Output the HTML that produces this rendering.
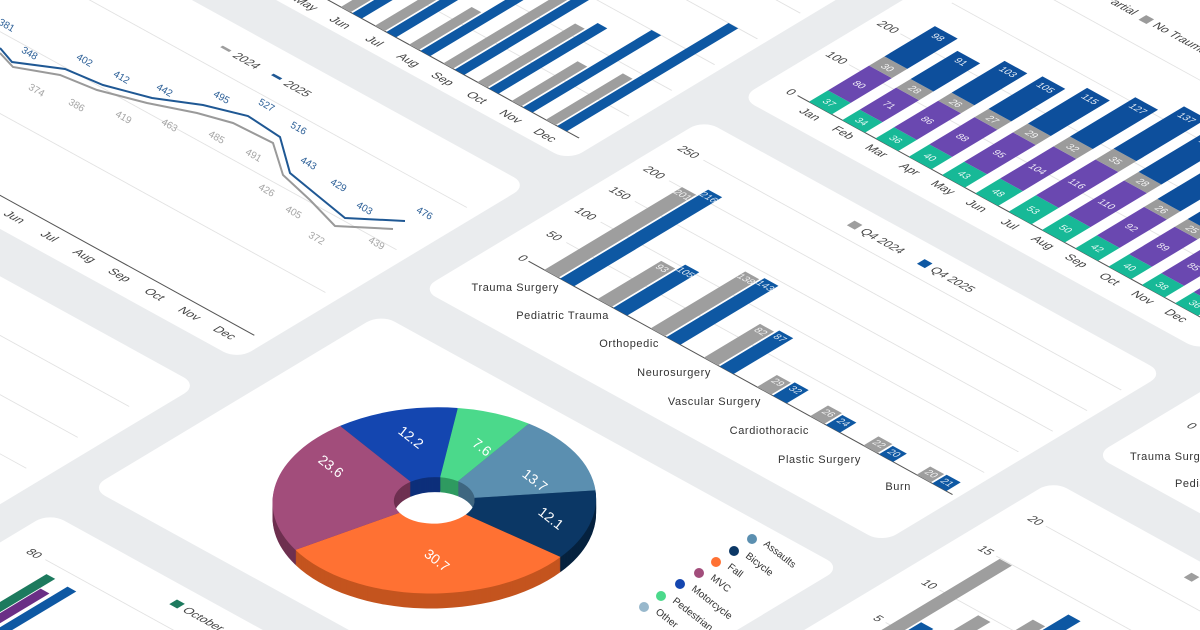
<!DOCTYPE html>
<html><head><meta charset="utf-8"><style>
html,body{margin:0;padding:0;background:#eaecee;width:1200px;height:630px;overflow:hidden;}
svg{display:block;font-family:"Liberation Sans",sans-serif;}
</style></head><body>
<svg width="1200" height="630" viewBox="0 0 1200 630" xmlns="http://www.w3.org/2000/svg">
<defs>
<g id="pd" transform="matrix(0.876 0.482 -0.857 0.515 0 0)">
<path fill="#0d2f7a" d="M625,242.1 A132,132 0 0 1 677.4,158.2 L735.6,238.3 A33,33 0 0 0 722.5,259.3 Z"/>
<path fill="#2f9a60" d="M677.4,158.2 A132,132 0 0 1 735.3,134.5 L750.1,232.4 A33,33 0 0 0 735.6,238.3 Z"/>
<path fill="#3f6680" d="M735.3,134.5 A132,132 0 0 1 841.1,164.9 L776.5,240 A33,33 0 0 0 750.1,232.4 Z"/>
<path fill="#06223f" d="M841.1,164.9 A132,132 0 0 1 886.4,251.9 L787.8,261.7 A33,33 0 0 0 776.5,240 Z"/>
<path fill="#c4541f" d="M886.4,251.9 A132,132 0 0 1 721.3,392.6 L746.6,296.9 A33,33 0 0 0 787.8,261.7 Z"/>
<path fill="#6e3050" d="M721.3,392.6 A132,132 0 0 1 625,242.1 L722.5,259.3 A33,33 0 0 0 746.6,296.9 Z"/>
</g>
</defs>
<rect width="1200" height="630" fill="#eaecee"/>
<g transform="matrix(0.876 0.482 -0.857 0.515 0 0)">
<g fill="#fff">
<rect x="-300" y="-700" width="798" height="546" rx="16"/>
<rect x="-300" y="-107" width="798" height="339" rx="16"/>
<rect x="-300" y="280" width="800" height="600" rx="16"/>
<rect x="538" y="-900" width="526" height="586" rx="16"/>
<rect x="538" y="-271" width="526" height="329" rx="16"/>
<rect x="538" y="106" width="526" height="338" rx="16"/>
<rect x="538" y="492" width="526" height="500" rx="16"/>
<rect x="1104" y="-900" width="600" height="751" rx="16"/>
<rect x="1104" y="-100" width="600" height="800" rx="16"/>
</g>
<g stroke="#e2e2e2" stroke-width="1">
<line x1="-300" y1="-50" x2="484" y2="-50"/><line x1="-300" y1="32" x2="484" y2="32"/><line x1="-300" y1="115" x2="484" y2="115"/>
<line x1="-300" y1="-233" x2="490" y2="-233"/><line x1="-300" y1="-283" x2="490" y2="-283"/><line x1="-300" y1="-333" x2="490" y2="-333"/><line x1="-300" y1="-383" x2="490" y2="-383"/><line x1="-300" y1="-433" x2="490" y2="-433"/>
<line x1="-300" y1="340" x2="480" y2="340"/><line x1="-300" y1="400" x2="480" y2="400"/><line x1="-300" y1="460" x2="480" y2="460"/><line x1="-300" y1="520" x2="480" y2="520"/><line x1="-300" y1="580" x2="480" y2="580"/>
<line x1="570" y1="-408" x2="1050" y2="-408"/><line x1="570" y1="-468" x2="1050" y2="-468"/><line x1="570" y1="-528" x2="1050" y2="-528"/><line x1="570" y1="-588" x2="1050" y2="-588"/>
<line x1="578" y1="-70" x2="1055" y2="-70"/><line x1="578" y1="-110" x2="1055" y2="-110"/><line x1="578" y1="-150" x2="1055" y2="-150"/><line x1="578" y1="-190" x2="1055" y2="-190"/><line x1="578" y1="-230" x2="1055" y2="-230"/>
<line x1="582" y1="542" x2="1000" y2="542"/>
<line x1="1145" y1="-50" x2="1700" y2="-50"/><line x1="1145" y1="8" x2="1700" y2="8"/><line x1="1145" y1="74" x2="1700" y2="74"/><line x1="1145" y1="137" x2="1700" y2="137"/>
</g>
<g stroke="#555" stroke-width="1.2">
<line x1="-300" y1="198" x2="484" y2="198"/>
<line x1="-300" y1="-183" x2="482" y2="-183"/>
<line x1="570" y1="-348" x2="1040" y2="-348"/>
<line x1="574" y1="-30" x2="1058" y2="-30"/>
<line x1="1140" y1="-236" x2="1700" y2="-236"/>
</g>
<g fill="#9e9e9e">
<rect x="15" y="-383" width="11" height="200"/><rect x="54" y="-373" width="11" height="190"/><rect x="93" y="-393" width="11" height="210"/><rect x="132" y="-383" width="11" height="200"/><rect x="171" y="-373" width="11" height="190"/><rect x="210" y="-373" width="11" height="190"/><rect x="249" y="-363" width="11" height="180"/><rect x="288" y="-256" width="11" height="73"/><rect x="327" y="-363" width="11" height="180"/><rect x="366" y="-297" width="11" height="114"/><rect x="405" y="-260" width="11" height="77"/><rect x="444" y="-273" width="11" height="90"/>
</g>
<g fill="#0e58a3">
<rect x="28" y="-443" width="11" height="260"/><rect x="67" y="-433" width="11" height="250"/><rect x="106" y="-443" width="11" height="260"/><rect x="145" y="-433" width="11" height="250"/><rect x="184" y="-423" width="11" height="240"/><rect x="223" y="-413" width="11" height="230"/><rect x="262" y="-423" width="11" height="240"/><rect x="301" y="-413" width="11" height="230"/><rect x="340" y="-393" width="11" height="210"/><rect x="379" y="-310" width="11" height="127"/><rect x="418" y="-333" width="11" height="150"/><rect x="457" y="-383" width="11" height="200"/>
</g>
<g font-size="12" fill="#444" text-anchor="middle">
<text x="30" y="-163">Jan</text><text x="69" y="-163">Feb</text><text x="108" y="-163">Mar</text><text x="147" y="-163">Apr</text><text x="186" y="-163">May</text><text x="225" y="-163">Jun</text><text x="264" y="-163">Jul</text><text x="303" y="-163">Aug</text><text x="342" y="-163">Sep</text><text x="381" y="-163">Oct</text><text x="420" y="-163">Nov</text><text x="459" y="-163">Dec</text>
</g>
<g font-size="12" fill="#444" text-anchor="middle">
<text x="24" y="216">Jan</text><text x="64" y="216">Feb</text><text x="104" y="216">Mar</text><text x="144" y="216">Apr</text><text x="184" y="216">May</text><text x="224" y="216">Jun</text><text x="264" y="216">Jul</text><text x="304" y="216">Aug</text><text x="344" y="216">Sep</text><text x="384" y="216">Oct</text><text x="424" y="216">Nov</text><text x="464" y="216">Dec</text>
</g>
<rect x="178" y="-78" width="10" height="3" fill="#9e9e9e"/><text x="194" y="-72" font-size="12" fill="#444">2024</text>
<rect x="236" y="-78" width="10" height="3" fill="#1f5894"/><text x="252" y="-72" font-size="12" fill="#444">2025</text>
<g fill="#17b997">
<rect x="583" y="-370.2" width="26" height="22.2"/><rect x="621" y="-368.4" width="26" height="20.4"/><rect x="659" y="-369.6" width="26" height="21.6"/><rect x="697" y="-372" width="26" height="24"/><rect x="735" y="-373.8" width="26" height="25.8"/><rect x="773" y="-376.8" width="26" height="28.8"/><rect x="811" y="-379.8" width="26" height="31.8"/><rect x="849" y="-378" width="26" height="30"/><rect x="887" y="-373.2" width="26" height="25.2"/><rect x="925" y="-372" width="26" height="24"/><rect x="963" y="-370.8" width="26" height="22.8"/><rect x="1001" y="-369.6" width="26" height="21.6"/>
</g>
<g fill="#6a48b0">
<rect x="583" y="-418.2" width="26" height="48"/><rect x="621" y="-411" width="26" height="42.6"/><rect x="659" y="-421.2" width="26" height="51.6"/><rect x="697" y="-424.8" width="26" height="52.8"/><rect x="735" y="-430.8" width="26" height="57"/><rect x="773" y="-439.2" width="26" height="62.4"/><rect x="811" y="-449.4" width="26" height="69.6"/><rect x="849" y="-444" width="26" height="66"/><rect x="887" y="-428.4" width="26" height="55.2"/><rect x="925" y="-425.4" width="26" height="53.4"/><rect x="963" y="-421.8" width="26" height="51"/><rect x="1001" y="-417.6" width="26" height="48"/>
</g>
<g fill="#9b9b9b">
<rect x="583" y="-436.2" width="26" height="18"/><rect x="621" y="-427.8" width="26" height="16.8"/><rect x="659" y="-436.8" width="26" height="15.6"/><rect x="697" y="-441" width="26" height="16.2"/><rect x="735" y="-448.2" width="26" height="17.4"/><rect x="773" y="-458.4" width="26" height="19.2"/><rect x="811" y="-470.4" width="26" height="21"/><rect x="849" y="-460.8" width="26" height="16.8"/><rect x="887" y="-444" width="26" height="15.6"/><rect x="925" y="-440.4" width="26" height="15"/><rect x="963" y="-436.2" width="26" height="14.4"/><rect x="1001" y="-430.8" width="26" height="13.2"/>
</g>
<g fill="#0d4f9c">
<rect x="583" y="-495" width="26" height="58.8"/><rect x="621" y="-482.4" width="26" height="54.6"/><rect x="659" y="-498.6" width="26" height="61.8"/><rect x="697" y="-504" width="26" height="63"/><rect x="735" y="-517.2" width="26" height="69"/><rect x="773" y="-534.6" width="26" height="76.2"/><rect x="811" y="-552.6" width="26" height="82.2"/><rect x="849" y="-538.8" width="26" height="78"/><rect x="887" y="-516" width="26" height="72"/><rect x="925" y="-509.4" width="26" height="69"/><rect x="963" y="-502.2" width="26" height="66"/><rect x="1001" y="-493.8" width="26" height="63"/>
</g>
<g font-size="10" fill="#fff" text-anchor="middle" opacity="0.9">
<text x="596" y="-355">37</text><text x="634" y="-354">34</text><text x="672" y="-355">36</text><text x="710" y="-356">40</text><text x="748" y="-357">43</text><text x="786" y="-358">48</text><text x="824" y="-360">53</text><text x="862" y="-359">50</text><text x="900" y="-357">42</text><text x="938" y="-356">40</text><text x="976" y="-355">38</text><text x="1014" y="-355">36</text>
<text x="596" y="-390">80</text><text x="634" y="-386">71</text><text x="672" y="-392">86</text><text x="710" y="-394">88</text><text x="748" y="-398">95</text><text x="786" y="-404">104</text><text x="824" y="-411">116</text><text x="862" y="-407">110</text><text x="900" y="-397">92</text><text x="938" y="-395">89</text><text x="976" y="-392">85</text><text x="1014" y="-390">80</text>
<text x="596" y="-423">30</text><text x="634" y="-416">28</text><text x="672" y="-425">26</text><text x="710" y="-429">27</text><text x="748" y="-436">29</text><text x="786" y="-445">32</text><text x="824" y="-456">35</text><text x="862" y="-449">28</text><text x="900" y="-432">26</text><text x="938" y="-429">25</text><text x="976" y="-425">24</text><text x="1014" y="-420">22</text>
<text x="596" y="-482">98</text><text x="634" y="-470">91</text><text x="672" y="-486">103</text><text x="710" y="-491">105</text><text x="748" y="-504">115</text><text x="786" y="-521">127</text><text x="824" y="-539">137</text><text x="862" y="-525">130</text><text x="900" y="-503">120</text><text x="938" y="-496">115</text><text x="976" y="-489">110</text><text x="1014" y="-481">105</text>
</g>
<g font-size="12" fill="#444" text-anchor="middle">
<text x="596" y="-332">Jan</text><text x="634" y="-332">Feb</text><text x="672" y="-332">Mar</text><text x="710" y="-332">Apr</text><text x="748" y="-332">May</text><text x="786" y="-332">Jun</text><text x="824" y="-332">Jul</text><text x="862" y="-332">Aug</text><text x="900" y="-332">Sep</text><text x="938" y="-332">Oct</text><text x="976" y="-332">Nov</text><text x="1014" y="-332">Dec</text>
</g>
<g font-size="12" fill="#444" text-anchor="end">
<text x="566" y="-344">0</text><text x="566" y="-404">100</text><text x="566" y="-464">200</text>
</g>
<text x="690" y="-616" font-size="12" fill="#444" text-anchor="end">Partial</text>
<rect x="698" y="-624" width="9" height="9" fill="#9b9b9b"/><text x="712" y="-616" font-size="12" fill="#444">No Trauma</text>
<g fill="#9e9e9e">
<rect x="592" y="-190.8" width="16" height="160.8"/><rect x="652.7" y="-104.4" width="16" height="74.4"/><rect x="713.4" y="-140.4" width="16" height="110.4"/><rect x="774.1" y="-95.6" width="16" height="65.6"/><rect x="834.8" y="-53.2" width="16" height="23.2"/><rect x="895.5" y="-50.8" width="16" height="20.8"/><rect x="956.2" y="-47.6" width="16" height="17.6"/><rect x="1016.9" y="-46" width="16" height="16"/>
</g>
<g fill="#0e58a3">
<rect x="610" y="-202.8" width="16" height="172.8"/><rect x="670.7" y="-114" width="16" height="84"/><rect x="731.4" y="-144.4" width="16" height="114.4"/><rect x="792.1" y="-99.6" width="16" height="69.6"/><rect x="852.8" y="-55.6" width="16" height="25.6"/><rect x="913.5" y="-49.2" width="16" height="19.2"/><rect x="974.2" y="-46" width="16" height="16"/><rect x="1034.9" y="-46.8" width="16" height="16.8"/>
</g>
<g font-size="10" fill="#fff" text-anchor="middle" opacity="0.85">
<text x="600" y="-180">201</text><text x="618" y="-192">216</text><text x="660.7" y="-94">93</text><text x="678.7" y="-103">105</text><text x="721.4" y="-130">138</text><text x="739.4" y="-134">143</text><text x="782.1" y="-85">82</text><text x="800.1" y="-89">87</text><text x="842.8" y="-43">29</text><text x="860.8" y="-45">32</text><text x="903.5" y="-40">26</text><text x="921.5" y="-39">24</text><text x="964.2" y="-37">22</text><text x="982.2" y="-36">20</text><text x="1024.9" y="-36">20</text><text x="1042.9" y="-36">21</text>
</g>
<g font-size="12" fill="#444" text-anchor="end">
<text x="571" y="-26">0</text><text x="571" y="-66">50</text><text x="571" y="-106">100</text><text x="571" y="-146">150</text><text x="571" y="-186">200</text><text x="571" y="-226">250</text>
</g>
<rect x="728" y="-253" width="9" height="9" fill="#9e9e9e"/><text x="742" y="-244" font-size="12" fill="#444">Q4 2024</text>
<rect x="808" y="-253" width="9" height="9" fill="#0e58a3"/><text x="822" y="-244" font-size="12" fill="#444">Q4 2025</text>
<text x="576" y="546" font-size="12" fill="#444" text-anchor="end">80</text>
<rect x="597" y="556" width="10" height="200" fill="#1d7a5e"/>
<rect x="608" y="574" width="10" height="200" fill="#6a2f86"/>
<rect x="622" y="557" width="10" height="200" fill="#0e58a3"/>
<rect x="700" y="509" width="9" height="9" fill="#1d7a5e"/><text x="714" y="518" font-size="12" fill="#444">October</text>
<text x="1136" y="-229" font-size="12" fill="#444" text-anchor="end">0</text>
<g font-size="12" fill="#444" text-anchor="end">
<text x="1140" y="-46">20</text><text x="1140" y="12">15</text><text x="1140" y="78">10</text><text x="1140" y="141">5</text>
</g>
<rect x="1150" y="9" width="14" height="300" fill="#9e9e9e"/>
<rect x="1166" y="117" width="14" height="200" fill="#0e58a3"/>
<rect x="1193" y="78" width="14" height="200" fill="#9e9e9e"/>
<rect x="1230" y="52" width="14" height="200" fill="#9e9e9e"/>
<rect x="1246" y="27" width="14" height="200" fill="#0e58a3"/>
<rect x="1278" y="-84" width="9" height="9" fill="#9e9e9e"/>
</g>
<polyline fill="none" stroke="#9a9a9a" stroke-width="2" points="0,53 13,67 60,75 97,90 147,103 197,113 233,123 273,143 283,175 310,200 335,226 393,229"/>
<polyline fill="none" stroke="#1f5894" stroke-width="2" points="0,48 12,62 65,69 103,85 152,98 203,105 248,116 280,137 290,173 318,196 345,218 405,221"/>
<g font-size="10" fill="#2c5f97" text-anchor="middle">
<text transform="translate(5,28) rotate(30)">381</text><text transform="translate(28,56) rotate(30)">348</text><text transform="translate(83,63) rotate(30)">402</text><text transform="translate(120,80) rotate(30)">412</text><text transform="translate(163,93) rotate(30)">442</text><text transform="translate(220,100) rotate(30)">495</text><text transform="translate(265,108) rotate(30)">527</text><text transform="translate(297,131) rotate(30)">516</text><text transform="translate(307,166) rotate(30)">443</text><text transform="translate(337,188) rotate(30)">429</text><text transform="translate(363,211) rotate(30)">403</text><text transform="translate(423,216) rotate(30)">476</text>
</g>
<g font-size="10" fill="#a5a5a5" text-anchor="middle">
<text transform="translate(35,93) rotate(30)">374</text><text transform="translate(75,108) rotate(30)">386</text><text transform="translate(122,120) rotate(30)">419</text><text transform="translate(168,128) rotate(30)">463</text><text transform="translate(215,140) rotate(30)">485</text><text transform="translate(252,158) rotate(30)">491</text><text transform="translate(265,193) rotate(30)">426</text><text transform="translate(292,215) rotate(30)">405</text><text transform="translate(315,241) rotate(30)">372</text><text transform="translate(375,246) rotate(30)">439</text>
</g>
<g font-size="11" fill="#333" text-anchor="end" letter-spacing="0.6">
<text x="559" y="291">Trauma Surgery</text><text x="609" y="319">Pediatric Trauma</text><text x="659" y="347">Orthopedic</text><text x="711" y="376">Neurosurgery</text><text x="761" y="405">Vascular Surgery</text><text x="809" y="434">Cardiothoracic</text><text x="861" y="463">Plastic Surgery</text><text x="911" y="490">Burn</text>
</g>
<g font-size="11" fill="#333" letter-spacing="0.6">
<text x="1130" y="460">Trauma Surgery</text><text x="1175" y="487">Pediatric</text>
</g>
<use href="#pd" y="15"/><use href="#pd" y="14"/><use href="#pd" y="13"/><use href="#pd" y="12"/><use href="#pd" y="11"/><use href="#pd" y="10"/><use href="#pd" y="9"/><use href="#pd" y="8"/><use href="#pd" y="7"/><use href="#pd" y="6"/><use href="#pd" y="5"/><use href="#pd" y="4"/><use href="#pd" y="3"/><use href="#pd" y="2"/><use href="#pd" y="1"/>
<g transform="matrix(0.876 0.482 -0.857 0.515 0 0)">
<path fill="#1446b0" d="M625,242.1 A132,132 0 0 1 677.4,158.2 L735.6,238.3 A33,33 0 0 0 722.5,259.3 Z"/>
<path fill="#4bd98b" d="M677.4,158.2 A132,132 0 0 1 735.3,134.5 L750.1,232.4 A33,33 0 0 0 735.6,238.3 Z"/>
<path fill="#5b8fb0" d="M735.3,134.5 A132,132 0 0 1 841.1,164.9 L776.5,240 A33,33 0 0 0 750.1,232.4 Z"/>
<path fill="#0b3765" d="M841.1,164.9 A132,132 0 0 1 886.4,251.9 L787.8,261.7 A33,33 0 0 0 776.5,240 Z"/>
<path fill="#ff7133" d="M886.4,251.9 A132,132 0 0 1 721.3,392.6 L746.6,296.9 A33,33 0 0 0 787.8,261.7 Z"/>
<path fill="#a24d7b" d="M721.3,392.6 A132,132 0 0 1 625,242.1 L722.5,259.3 A33,33 0 0 0 746.6,296.9 Z"/>
</g>
<g font-size="14" fill="#fff" text-anchor="middle">
<text transform="translate(408,441) rotate(38)">12.2</text><text transform="translate(479,451) rotate(38)">7.6</text><text transform="translate(328,470) rotate(38)">23.6</text><text transform="translate(532,484) rotate(38)">13.7</text><text transform="translate(548,522) rotate(38)">12.1</text><text transform="translate(434,564) rotate(38)">30.7</text>
</g>
<g>
<circle cx="752" cy="539" r="5" fill="#5b8fb0"/><circle cx="734" cy="551" r="5" fill="#0b3765"/><circle cx="716" cy="562" r="5" fill="#ff7133"/><circle cx="699" cy="573" r="5" fill="#a24d7b"/><circle cx="680" cy="584" r="5" fill="#1446b0"/><circle cx="661" cy="596" r="5" fill="#4bd98b"/><circle cx="644" cy="607" r="5" fill="#98b8cc"/>
</g>
<g font-size="10" fill="#333">
<text transform="translate(763,545) rotate(38)">Assaults</text><text transform="translate(745,557) rotate(38)">Bicycle</text><text transform="translate(727,568) rotate(38)">Fall</text><text transform="translate(710,579) rotate(38)">MVC</text><text transform="translate(691,590) rotate(38)">Motorcycle</text><text transform="translate(672,602) rotate(38)">Pedestrian</text><text transform="translate(655,613) rotate(38)">Other</text>
</g>
</svg>
</body></html>
